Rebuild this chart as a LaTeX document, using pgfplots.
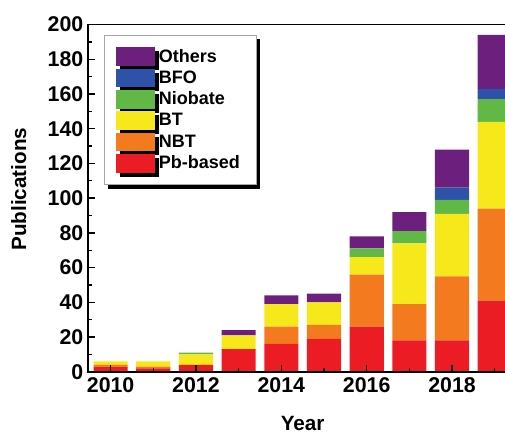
\documentclass[border=0pt]{standalone}
\usepackage{pgfplots}
\pgfplotsset{compat=1.18}
\usepackage{fontspec}
\setmainfont{Liberation Sans}
\usetikzlibrary{shadows}
\definecolor{cPb}{HTML}{EC1C24}
\definecolor{cNBT}{HTML}{F47A20}
\definecolor{cBT}{HTML}{F7E81C}
\definecolor{cNb}{HTML}{62B847}
\definecolor{cBFO}{HTML}{2D52A8}
\definecolor{cOth}{HTML}{6C1F7C}
\pgfplotstableread{
year Pb NBT BT Nb BFO Oth
2010 3 1 2 0 0 0
2011 2 1 3 0 0 0
2012 4 0 6 1 0 0
2013 13 0 8 0 0 3
2014 16 10 13 0 0 5
2015 19 8 13 0 0 5
2016 26 30 10 5 0 7
2017 18 21 35 7 0 11
2018 18 37 36 8 7 22
2019 41 53 50 13 6 31
}\datatable
\begin{document}
\begin{tikzpicture}
\useasboundingbox (-66pt,-46pt) rectangle (312.75pt,278.8pt);
\clip (-66pt,-46pt) rectangle (312.75pt,278.8pt);
\begin{axis}[
  scale only axis,
  width=322pt, height=260.4pt,
  xmin=2009.47, xmax=2019.53,
  ymin=0, ymax=200,
  ybar stacked,
  bar width=0.8,
  axis on top,
  axis line style={line width=1.2pt},
  every tick/.style={black, line width=1pt},
  major tick length=5pt,
  minor tick length=3pt,
  xtick={2010,2012,2014,2016,2018},
  xticklabels={2010,2012,2014,2016,2018},
  minor xtick={2011,2013,2015,2017,2019},
  ytick={0,20,...,200},
  minor y tick num=1,
  xtick pos=bottom, ytick pos=left,
  tick align=inside,
  /pgf/number format/assume math mode=true,
  ticklabel style={font=\fontsize{16}{18}\selectfont\bfseries},
  xticklabel style={yshift=-1pt},
  xlabel={Year},
  ylabel={Publications},
  label style={font=\fontsize{15.5}{18}\selectfont\bfseries},
  xlabel style={at={(axis description cs:0.5,0)}, anchor=base, yshift=-44pt},
  ylabel style={at={(axis description cs:0,0.5)}, anchor=center, yshift=52pt, xshift=6.75pt},
  legend style={at={(axis description cs:0.037,0.97)}, anchor=north west,
    draw=gray!70, line width=0.6pt, fill=white,
    font=\fontsize{13.5}{15}\selectfont\bfseries,
    inner xsep=9pt, inner ysep=9pt, row sep=2pt,
    nodes={inner ysep=1pt, inner xsep=3pt},
    drop shadow={shadow xshift=3pt, shadow yshift=-3pt, fill=black, opacity=1}},
  legend cell align=left,
  reverse legend,
  legend image code/.code={\fill[#1] (0pt,-7pt) rectangle (29pt,7pt);},
]
\addplot[fill=cPb, draw=none] table[x=year, y=Pb] {\datatable};
\addplot[fill=cNBT, draw=none] table[x=year, y=NBT] {\datatable};
\addplot[fill=cBT, draw=none] table[x=year, y=BT] {\datatable};
\addplot[fill=cNb, draw=none] table[x=year, y=Nb] {\datatable};
\addplot[fill=cBFO, draw=none] table[x=year, y=BFO] {\datatable};
\addplot[fill=cOth, draw=none] table[x=year, y=Oth] {\datatable};
\legend{Pb-based,NBT,BT,Niobate,BFO,Others}
\end{axis}
\end{tikzpicture}
\end{document}
